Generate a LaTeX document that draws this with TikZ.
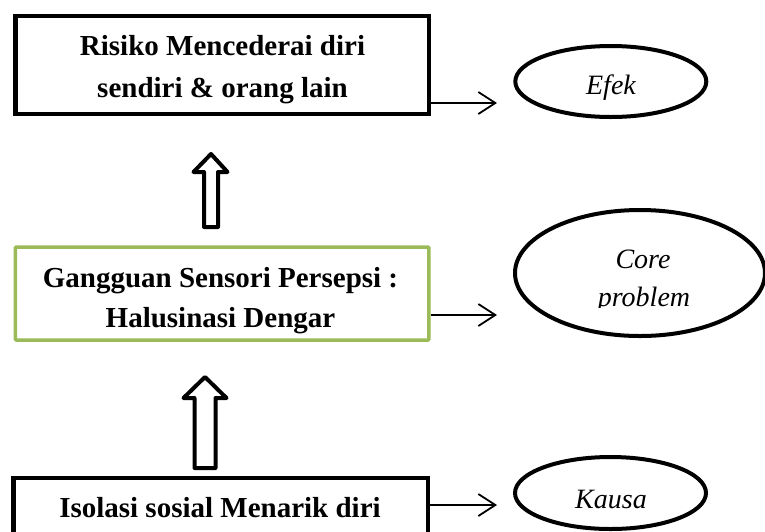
\documentclass[tikz,border=0pt]{standalone}
\usepackage{fontspec}
\setmainfont{Liberation Serif}
\usetikzlibrary{arrows.meta,shapes.geometric}
\definecolor{boxgreen}{HTML}{9BBB59}
\tikzset{
  boxstyle/.style={draw=black, line width=4.5pt, rectangle, inner sep=0pt},
  greenbox/.style={draw=boxgreen, line width=3.5pt, rectangle, inner sep=0pt, rounded corners=1pt},
  ovalstyle/.style={draw=black, line width=4pt, ellipse, inner sep=0pt},
  boldtxt/.style={font=\fontsize{29}{41}\selectfont\bfseries, anchor=base, inner sep=0pt},
  itxt/.style={font=\fontsize{28}{35}\selectfont\itshape, anchor=base, inner sep=0pt},
  conn/.style={line width=1.8pt, -{Straight Barb[length=17pt,width=22pt,line width=1.8pt]}},
  blockarrow/.style={draw=black, line width=4pt, line join=round, fill=white}
}
\begin{document}
\begin{tikzpicture}[x=1pt,y=-1pt]
\useasboundingbox (0,0) rectangle (765,531);
\clip (0,0) rectangle (765,531);
% boxes
\node[boxstyle, minimum width=413.3pt, minimum height=98.3pt] (b1) at (222.3,64.9) {};
\node[greenbox, minimum width=413.5pt, minimum height=93pt] (b2) at (222.2,293.5) {};
\node[boxstyle, minimum width=414.5pt, minimum height=92pt] (b3) at (220.75,524) {};
% box texts
\node[boldtxt] (t1a) at (222.5,55) {Risiko Mencederai diri};
\node[boldtxt] (t1b) at (222.5,97) {sendiri \& orang lain};
\node[boldtxt] (t2a) at (220.5,287) {Gangguan Sensori Persepsi :};
\node[boldtxt] (t2b) at (220.5,327) {Halusinasi Dengar};
\node[boldtxt] (t3) at (220,517) {Isolasi sosial Menarik diri};
% ellipses
\node[ovalstyle, minimum width=191pt, minimum height=71pt] (e1) at (610.8,81.5) {};
\node[ovalstyle, minimum width=250pt, minimum height=126pt] (e2) at (640,273) {};
\node[ovalstyle, minimum width=191pt, minimum height=72pt] (e3) at (610.5,493) {};
\node[itxt] (l1) at (611,94) {Efek};
\node[itxt] (l2a) at (643,268) {Core};
\begin{scope}
\clip (540,280) rectangle (740,307.5);
\node[itxt] (l2b) at (644,306) {problem};
\end{scope}
\node[itxt] (l3) at (611,508) {Kausa};
% connector free ends
\coordinate (c1) at (497,103);
\coordinate (c2) at (497,315);
\coordinate (c3) at (497,505);
\draw[conn] (b1.east |- c1) -- (c1);
\draw[conn] (b2.east |- c2) -- (c2);
\draw[conn] (b3.east |- c3) -- (c3);
% block arrows
\draw[blockarrow] (211,154) -- (227.5,172) -- (218,172) -- (218,227) -- (204,227) -- (204,172) -- (193.5,172) -- cycle;
\draw[blockarrow] (205,377) -- (226.5,398) -- (215.5,398) -- (215.5,468) -- (194.5,468) -- (194.5,398) -- (183.5,398) -- cycle;
\end{tikzpicture}
\end{document}
